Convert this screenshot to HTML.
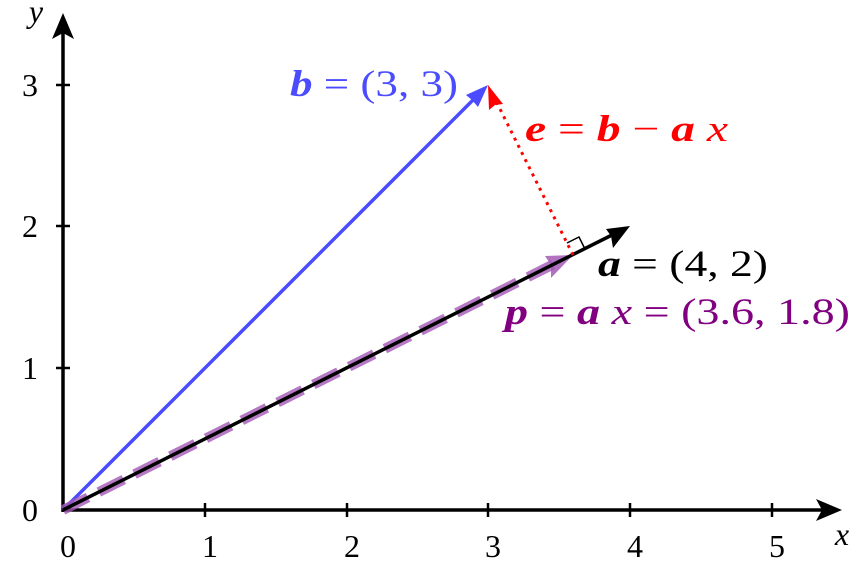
<!DOCTYPE html>
<html><head><meta charset="utf-8"><style>
html,body{margin:0;padding:0;background:#fff;width:853px;height:565px;overflow:hidden}
text{font-family:"Liberation Serif",serif}
</style></head><body>
<svg width="853" height="565" viewBox="0 0 853 565" xmlns="http://www.w3.org/2000/svg">
<line x1="63" y1="510" x2="825" y2="510" stroke="#000" stroke-width="3.5"/>
<polygon points="842,510 816,499 822,510 816,521" fill="#000"/>
<line x1="63" y1="512" x2="63" y2="30" stroke="#000" stroke-width="3.5"/>
<polygon points="63,13 52,39 63,33 74,39" fill="#000"/>
<g stroke="#000" stroke-width="2.5">
<line x1="205" y1="503" x2="205" y2="517"/><line x1="347" y1="503" x2="347" y2="517"/>
<line x1="488" y1="503" x2="488" y2="517"/><line x1="630" y1="503" x2="630" y2="517"/>
<line x1="772" y1="503" x2="772" y2="517"/>
<line x1="56" y1="368" x2="70" y2="368"/><line x1="56" y1="226" x2="70" y2="226"/>
<line x1="56" y1="85" x2="70" y2="85"/>
</g>
<g font-size="32" text-anchor="middle">
<text x="68" y="557">0</text><text x="210" y="557">1</text><text x="352" y="557">2</text>
<text x="493" y="557">3</text><text x="635" y="557">4</text><text x="777" y="557">5</text>
<text x="30" y="521">0</text><text x="30" y="379">1</text><text x="30" y="237">2</text><text x="30" y="96">3</text>
</g>
<text x="842" y="545" font-size="32" font-style="italic" text-anchor="middle">x</text>
<text x="36" y="22" font-size="32" font-style="italic" text-anchor="middle">y</text>
<line x1="63" y1="510" x2="480" y2="93" stroke="#4b4bff" stroke-width="3.5"/>
<polygon points="488,85 466,95 472,100 478,107" fill="#4b4bff"/>
<line x1="63" y1="510" x2="558" y2="262" stroke="#a35ab5" stroke-width="10" stroke-dasharray="28,12" opacity="0.8"/>
<polygon points="573,255 545,256 551,265 551,278" fill="#a35ab5" opacity="0.85"/>
<line x1="63" y1="510" x2="620" y2="231" stroke="#000" stroke-width="3.5"/>
<polygon points="630,226 606,229 611,236 613,248" fill="#000"/>
<line x1="573" y1="255" x2="494" y2="97" stroke="#f00" stroke-width="3" stroke-dasharray="3,5"/>
<polygon points="488,85 489,110 495,105 503,104" fill="#f00"/>
<polyline points="567,243 579,237 585,249" fill="none" stroke="#000" stroke-width="1.5"/>
<text x="290" y="96" font-size="37" fill="#4b4bff" textLength="168" lengthAdjust="spacingAndGlyphs"><tspan font-weight="bold" font-style="italic">b</tspan> = (3, 3)</text>
<text x="525" y="141" font-size="37" fill="#f00" textLength="203" lengthAdjust="spacingAndGlyphs"><tspan font-weight="bold" font-style="italic">e</tspan> = <tspan font-weight="bold" font-style="italic">b</tspan> − <tspan font-weight="bold" font-style="italic">a</tspan> <tspan font-style="italic">x</tspan></text>
<text x="598" y="276" font-size="37" fill="#000" textLength="170" lengthAdjust="spacingAndGlyphs"><tspan font-weight="bold" font-style="italic">a</tspan> = (4, 2)</text>
<text x="505" y="324" font-size="37" fill="#800080" textLength="345" lengthAdjust="spacingAndGlyphs"><tspan font-weight="bold" font-style="italic">p</tspan> = <tspan font-weight="bold" font-style="italic">a</tspan> <tspan font-style="italic">x</tspan> = (3.6, 1.8)</text>
</svg>
</body></html>
